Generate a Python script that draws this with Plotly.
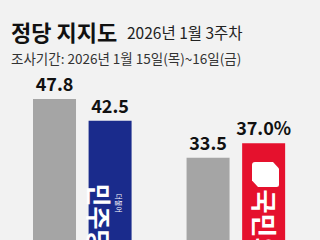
import plotly.graph_objects as go

# ---- data ----
parties = ["더불어민주당", "국민의힘"]
prev_week = [47.8, 33.5]      # 회색 막대
this_week = [42.5, 37.0]      # 정당 색 막대
party_colors = ["#1a2b8c", "#e5112d"]
title_main = "정당 지지도"
title_sub = "2026년 1월 3주차"
survey_period = "조사기간: 2026년 1월 15일(목)~16일(금)"

W, H = 320, 240
TOP = 70
FONT = "Noto Sans CJK KR"


def px_x(p):
    return p / W


def px_y(p):
    return (H - p) / (H - TOP)


prev_text = [f"{v:.1f}" for v in prev_week]
this_text = [f"{v:.1f}" for v in this_week]
this_text[-1] += "%"

fig = go.Figure()
fig.add_trace(go.Bar(
    x=parties, y=prev_week, text=prev_text,
    marker=dict(color="#a5a5a5", line=dict(width=0)),
    width=0.28, offset=-0.321,
    textposition="outside", constraintext="none", cliponaxis=False,
    textfont=dict(family=FONT, size=18, color="#111111", weight="bold"),
    hoverinfo="skip",
))
fig.add_trace(go.Bar(
    x=parties, y=this_week, text=this_text,
    marker=dict(color=party_colors, line=dict(width=0)),
    width=0.28, offset=0.041,
    textposition="outside", constraintext="none", cliponaxis=False,
    textfont=dict(family=FONT, size=18, color="#111111", weight="bold"),
    hoverinfo="skip",
))

annotations = [
    dict(text=f"<b>{title_main}</b>", x=px_x(9), y=px_y(31), xanchor="left", yanchor="middle",
         font=dict(family=FONT, size=22, color="#111111")),
    dict(text=title_sub, x=px_x(125), y=px_y(32.5), xanchor="left", yanchor="middle",
         font=dict(family=FONT, size=15.5, color="#222222")),
    dict(text=survey_period, x=px_x(9), y=px_y(57.5), xanchor="left", yanchor="middle",
         font=dict(family=FONT, size=13.5, color="#333333")),
    # party logos (decorative text)
    dict(text="<b>민주당</b>", textangle=90, x=px_x(100), y=px_y(181), xanchor="center", yanchor="top",
         font=dict(family=FONT, size=25, color="#ffffff")),
    dict(text="더불어", textangle=90, x=px_x(119), y=px_y(191), xanchor="center", yanchor="top",
         font=dict(family=FONT, size=7, color="#ffffff")),
    dict(text="<b>국민의힘</b>", textangle=90, x=px_x(265.5), y=px_y(187), xanchor="center", yanchor="top",
         font=dict(family=FONT, size=26, color="#ffffff")),
]
for a in annotations:
    a.update(xref="paper", yref="paper", showarrow=False)


def pth(pts):
    s = ""
    for cmd, (x, y) in pts:
        s += f"{cmd} {px_x(x):.5f},{px_y(y):.5f} "
    return s + "Z"


logo_path = pth([
    ("M", (252, 165)), ("Q", (252, 162)), ("", (255, 162)),
    ("L", (273, 162)), ("L", (279, 168.5)), ("L", (279, 184.5)),
    ("Q", (279, 187)), ("", (276.5, 187)), ("L", (258, 187)), ("L", (252, 180.5)),
])

fig.update_layout(
    width=W, height=H,
    margin=dict(l=0, r=0, t=TOP, b=0),
    paper_bgcolor="#f2f2f2", plot_bgcolor="#f2f2f2",
    showlegend=False,
    barmode="overlay",
    xaxis=dict(range=[-0.536, 1.548], visible=False, fixedrange=True),
    yaxis=dict(range=[13.4, 54.9], visible=False, fixedrange=True),
    annotations=annotations,
    shapes=[dict(type="path", path=logo_path, xref="paper", yref="paper",
                 fillcolor="#ffffff", line=dict(width=0), layer="above")],
    font=dict(family=FONT),
)

fig.write_html("out.html", config={"displayModeBar": False})
